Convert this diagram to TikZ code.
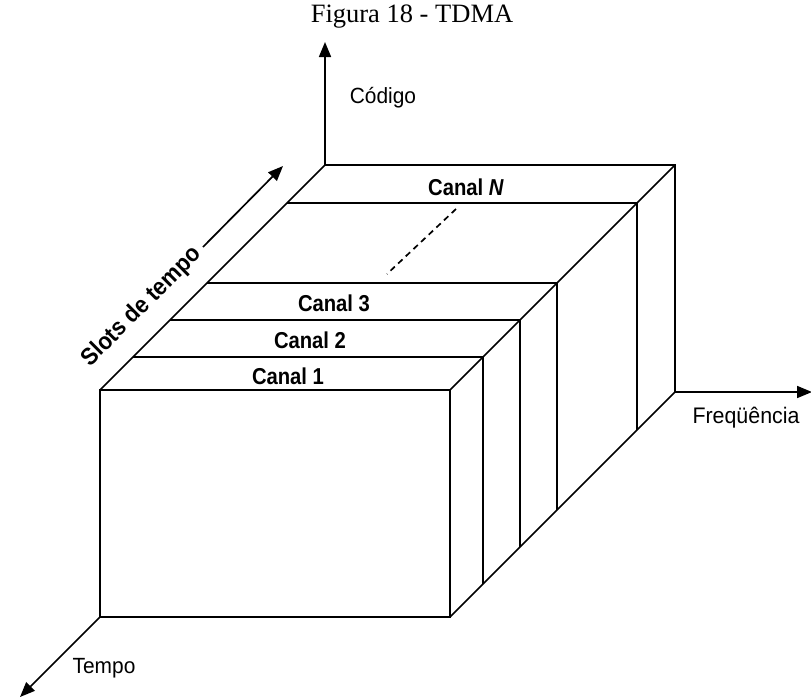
\documentclass[tikz,border=0pt]{standalone}
\usepackage{fontspec}
\setmainfont{Liberation Serif}
\newfontfamily\lblfont[FakeStretch=0.95]{Liberation Sans}
\newfontfamily\lblcond[FakeStretch=0.88]{Liberation Sans}
\newfontfamily\lblslots[FakeStretch=0.92]{Liberation Sans}
\usetikzlibrary{arrows.meta}
\tikzset{
  edge/.style={line width=1.7pt, line join=miter},
  axisarrow/.style={line width=1.7pt, -{Triangle[length=15pt,width=12pt]}},
  axislabel/.style={inner sep=0pt, font=\lblfont\fontsize{22}{26}\selectfont},
  canallabel/.style={inner sep=0pt, font=\lblcond\bfseries\fontsize{23}{27}\selectfont},
  slotslabel/.style={inner sep=0pt, font=\lblslots\bfseries\fontsize{24}{28}\selectfont},
  titlelabel/.style={inner sep=0pt, font=\fontsize{26.5}{31}\selectfont}
}
\begin{document}
\begin{tikzpicture}[x=1pt,y=-1pt]
\useasboundingbox (0,0) rectangle (811,697);
% box corners
\coordinate (FTL) at (100,390);
\coordinate (FTR) at (450,390);
\coordinate (FBL) at (100,617);
\coordinate (FBR) at (450,617);
\coordinate (BTL) at (325,165);
\coordinate (BTR) at (675,165);
\coordinate (BBR) at (675,392);
% front face
\draw[edge] (FTL) rectangle (FBR);
% depth edges
\draw[edge] (FTL) -- (BTL) -- (BTR) -- (BBR) -- (FBR);
% strips (offset t)
\foreach \t/\n in {33/a,70/b,107/c,187/d}{
  \coordinate (L\n) at (100+\t,390-\t);
  \coordinate (R\n) at (450+\t,390-\t);
  \coordinate (D\n) at (450+\t,617-\t);
  \draw[edge] (L\n) -- (R\n) -- (D\n);
}
\draw[edge] (FTR) -- (BTR);
% dashed
\coordinate (dsA) at (456,209);
\coordinate (dsB) at (387,274);
\draw[line width=1.7pt, dash pattern=on 6pt off 4.5pt] (dsA) -- (dsB);
% axes
\coordinate (codTip) at (325,42);
\coordinate (freTip) at (812,392);
\coordinate (temTip) at (20,697);
\draw[axisarrow] (BTL) -- (codTip);
\draw[axisarrow] (BBR) -- (freTip);
\draw[axisarrow] (FBL) -- (temTip);
\coordinate (slA) at (203,247);
\coordinate (slB) at (283,166);
\draw[axisarrow] (slA) -- (slB);
% labels
\node[titlelabel] (title) at (412,17) {Figura 18 - TDMA};
\node[axislabel] (cod) at (383,98) {Código};
\node[axislabel, font=\lblfont\fontsize{22.5}{26}\selectfont] (fre) at (746,418) {Freqüência};
\node[axislabel] (tem) at (104,668) {Tempo};
\node[slotslabel, rotate=45] (slots) at (142,307) {Slots de tempo};
\node[canallabel] (c1) at (288,376) {Canal 1};
\node[canallabel] (c2) at (310,340) {Canal 2};
\node[canallabel] (c3) at (334,303) {Canal 3};
\node[canallabel] (cN) at (466,187) {Canal \textit{N}};
\end{tikzpicture}
\end{document}
